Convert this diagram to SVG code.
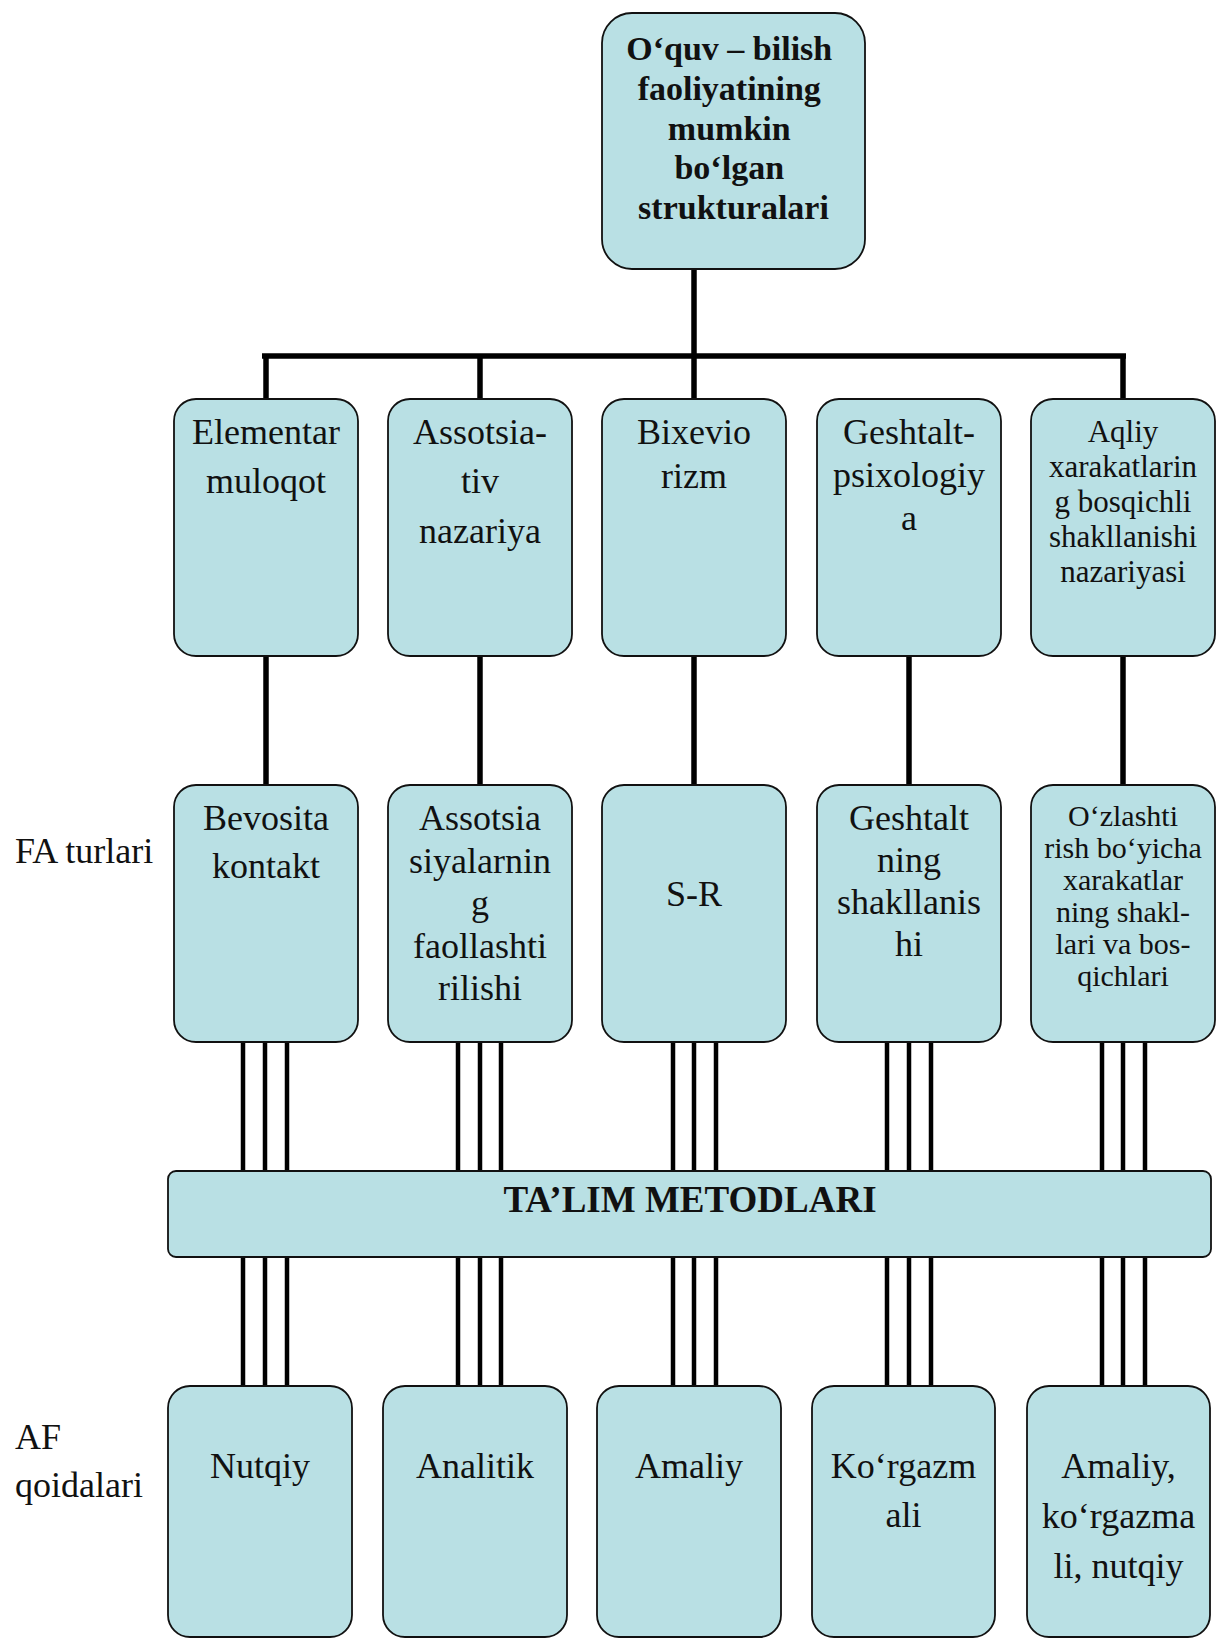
<svg xmlns="http://www.w3.org/2000/svg" width="1216" height="1640" viewBox="0 0 1216 1640">
<style>
.box{fill:#b9e0e4;stroke:#111;stroke-width:1.8}
.t{font-family:"Liberation Serif","Times New Roman",serif;font-size:36px;fill:#111;text-anchor:middle}
.ts{font-size:31px}
.tx{font-size:30px}
.tb{font-weight:bold}
.lbl{font-family:"Liberation Serif","Times New Roman",serif;font-size:36px;fill:#111}
.c{stroke:#000;stroke-width:5.5;fill:none}
.c3{stroke:#000;stroke-width:4.5;fill:none}
</style>
<rect x="0" y="0" width="1216" height="1640" fill="#ffffff"/>

<g id="connectors">
  <line class="c" x1="694" y1="269" x2="694" y2="399"/>
  <line class="c" x1="262" y1="356" x2="1126" y2="356" stroke-width="6"/>
  <line class="c" x1="266" y1="356" x2="266" y2="399"/>
  <line class="c" x1="480" y1="356" x2="480" y2="399"/>
  <line class="c" x1="1123" y1="356" x2="1123" y2="399"/>
  <line class="c" x1="266" y1="656" x2="266" y2="785"/>
  <line class="c" x1="480" y1="656" x2="480" y2="785"/>
  <line class="c" x1="694" y1="656" x2="694" y2="785"/>
  <line class="c" x1="909" y1="656" x2="909" y2="785"/>
  <line class="c" x1="1123" y1="656" x2="1123" y2="785"/>
  <g id="triple-upper">
    <line class="c3" x1="243" y1="1042" x2="243" y2="1171"/>
    <line class="c3" x1="265" y1="1042" x2="265" y2="1171"/>
    <line class="c3" x1="287" y1="1042" x2="287" y2="1171"/>
    <line class="c3" x1="458" y1="1042" x2="458" y2="1171"/>
    <line class="c3" x1="480" y1="1042" x2="480" y2="1171"/>
    <line class="c3" x1="501" y1="1042" x2="501" y2="1171"/>
    <line class="c3" x1="673" y1="1042" x2="673" y2="1171"/>
    <line class="c3" x1="694" y1="1042" x2="694" y2="1171"/>
    <line class="c3" x1="716" y1="1042" x2="716" y2="1171"/>
    <line class="c3" x1="887" y1="1042" x2="887" y2="1171"/>
    <line class="c3" x1="909" y1="1042" x2="909" y2="1171"/>
    <line class="c3" x1="931" y1="1042" x2="931" y2="1171"/>
    <line class="c3" x1="1102" y1="1042" x2="1102" y2="1171"/>
    <line class="c3" x1="1123" y1="1042" x2="1123" y2="1171"/>
    <line class="c3" x1="1145" y1="1042" x2="1145" y2="1171"/>
  </g>
  <g id="triple-lower">
    <line class="c3" x1="243" y1="1257" x2="243" y2="1386"/>
    <line class="c3" x1="265" y1="1257" x2="265" y2="1386"/>
    <line class="c3" x1="287" y1="1257" x2="287" y2="1386"/>
    <line class="c3" x1="458" y1="1257" x2="458" y2="1386"/>
    <line class="c3" x1="480" y1="1257" x2="480" y2="1386"/>
    <line class="c3" x1="501" y1="1257" x2="501" y2="1386"/>
    <line class="c3" x1="673" y1="1257" x2="673" y2="1386"/>
    <line class="c3" x1="694" y1="1257" x2="694" y2="1386"/>
    <line class="c3" x1="716" y1="1257" x2="716" y2="1386"/>
    <line class="c3" x1="887" y1="1257" x2="887" y2="1386"/>
    <line class="c3" x1="909" y1="1257" x2="909" y2="1386"/>
    <line class="c3" x1="931" y1="1257" x2="931" y2="1386"/>
    <line class="c3" x1="1102" y1="1257" x2="1102" y2="1386"/>
    <line class="c3" x1="1123" y1="1257" x2="1123" y2="1386"/>
    <line class="c3" x1="1145" y1="1257" x2="1145" y2="1386"/>
  </g>
</g>

<g id="root">
  <rect class="box" x="602" y="13" width="263" height="256" rx="30"/>
  <text class="t tb" style="font-size:34px">
    <tspan x="733.5" y="60">O‘quv – bilish</tspan>
    <tspan x="733.5" y="100">faoliyatining</tspan>
    <tspan x="733.5" y="139.5">mumkin</tspan>
    <tspan x="733.5" y="179">bo‘lgan</tspan>
    <tspan x="733.5" y="219">strukturalari</tspan>
  </text>
</g>

<g id="r2-elementar">
  <rect class="box" x="174" y="399" width="184" height="257" rx="22"/>
  <text class="t"><tspan x="266" y="444">Elementar</tspan><tspan x="266" y="493">muloqot</tspan></text>
</g>
<g id="r2-assotsiativ">
  <rect class="box" x="388" y="399" width="184" height="257" rx="22"/>
  <text class="t"><tspan x="480" y="444">Assotsia-</tspan><tspan x="480" y="493">tiv</tspan><tspan x="480" y="543">nazariya</tspan></text>
</g>
<g id="r2-bixeviorizm">
  <rect class="box" x="602" y="399" width="184" height="257" rx="22"/>
  <text class="t"><tspan x="694" y="444">Bixevio</tspan><tspan x="694" y="488">rizm</tspan></text>
</g>
<g id="r2-geshtalt">
  <rect class="box" x="817" y="399" width="184" height="257" rx="22"/>
  <text class="t"><tspan x="909" y="444">Geshtalt-</tspan><tspan x="909" y="487">psixologiy</tspan><tspan x="909" y="530">a</tspan></text>
</g>
<g id="r2-aqliy">
  <rect class="box" x="1031" y="399" width="184" height="257" rx="22"/>
  <text class="t ts"><tspan x="1123" y="442">Aqliy</tspan><tspan x="1123" y="477">xarakatlarin</tspan><tspan x="1123" y="512">g bosqichli</tspan><tspan x="1123" y="547">shakllanishi</tspan><tspan x="1123" y="582">nazariyasi</tspan></text>
</g>

<g id="label-fa">
  <text class="lbl" x="15" y="863">FA turlari</text>
</g>

<g id="r3-bevosita">
  <rect class="box" x="174" y="785" width="184" height="257" rx="22"/>
  <text class="t"><tspan x="266" y="830">Bevosita</tspan><tspan x="266" y="878">kontakt</tspan></text>
</g>
<g id="r3-assotsiatsiya">
  <rect class="box" x="388" y="785" width="184" height="257" rx="22"/>
  <text class="t"><tspan x="480" y="830">Assotsia</tspan><tspan x="480" y="872.5">siyalarnin</tspan><tspan x="480" y="915">g</tspan><tspan x="480" y="957.5">faollashti</tspan><tspan x="480" y="1000">rilishi</tspan></text>
</g>
<g id="r3-sr">
  <rect class="box" x="602" y="785" width="184" height="257" rx="22"/>
  <text class="t"><tspan x="694" y="906">S-R</tspan></text>
</g>
<g id="r3-geshtalt">
  <rect class="box" x="817" y="785" width="184" height="257" rx="22"/>
  <text class="t"><tspan x="909" y="830">Geshtalt</tspan><tspan x="909" y="872">ning</tspan><tspan x="909" y="914">shakllanis</tspan><tspan x="909" y="956">hi</tspan></text>
</g>
<g id="r3-ozlashtirish">
  <rect class="box" x="1031" y="785" width="184" height="257" rx="22"/>
  <text class="t tx"><tspan x="1123" y="826">O‘zlashti</tspan><tspan x="1123" y="858">rish bo‘yicha</tspan><tspan x="1123" y="890">xarakatlar</tspan><tspan x="1123" y="922">ning shakl-</tspan><tspan x="1123" y="954">lari va bos-</tspan><tspan x="1123" y="986">qichlari</tspan></text>
</g>

<g id="talim-metodlari">
  <rect class="box" x="168" y="1171" width="1043" height="86" rx="8"/>
  <text class="t tb" style="font-size:37px" x="690" y="1212">TA’LIM METODLARI</text>
</g>

<g id="label-af">
  <text class="lbl"><tspan x="15" y="1449">AF</tspan><tspan x="15" y="1497">qoidalari</tspan></text>
</g>

<g id="r4-nutqiy">
  <rect class="box" x="168" y="1386" width="184" height="251" rx="22"/>
  <text class="t" x="260" y="1478">Nutqiy</text>
</g>
<g id="r4-analitik">
  <rect class="box" x="383" y="1386" width="184" height="251" rx="22"/>
  <text class="t" x="475" y="1478">Analitik</text>
</g>
<g id="r4-amaliy">
  <rect class="box" x="597" y="1386" width="184" height="251" rx="22"/>
  <text class="t" x="689" y="1478">Amaliy</text>
</g>
<g id="r4-korgazmali">
  <rect class="box" x="812" y="1386" width="183" height="251" rx="22"/>
  <text class="t"><tspan x="903.5" y="1478">Ko‘rgazm</tspan><tspan x="903.5" y="1527">ali</tspan></text>
</g>
<g id="r4-aralash">
  <rect class="box" x="1027" y="1386" width="183" height="251" rx="22"/>
  <text class="t"><tspan x="1118.5" y="1478">Amaliy,</tspan><tspan x="1118.5" y="1528">ko‘rgazma</tspan><tspan x="1118.5" y="1578">li, nutqiy</tspan></text>
</g>
</svg>
